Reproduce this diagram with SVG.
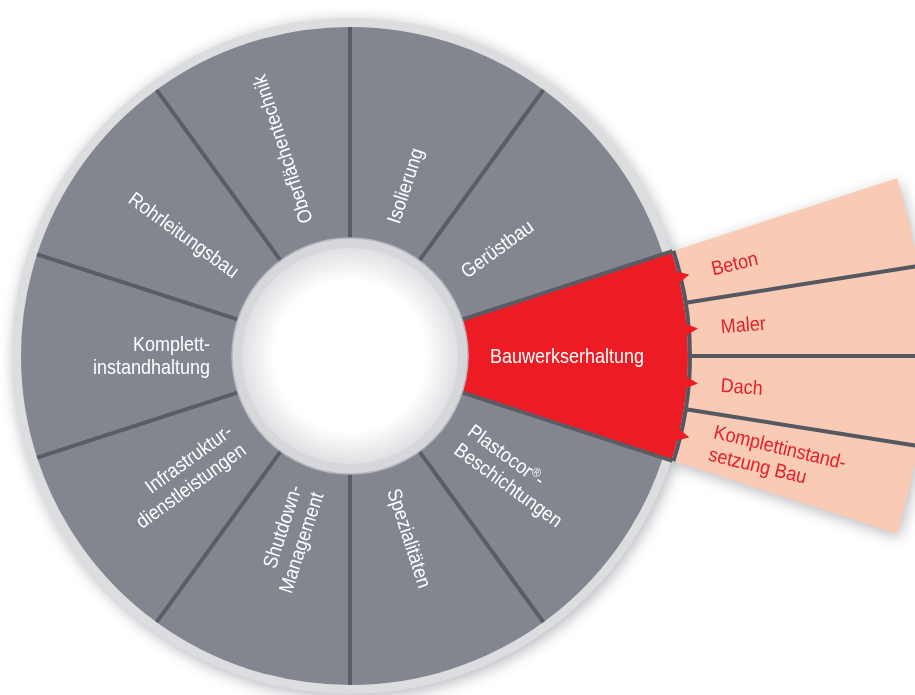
<svg xmlns="http://www.w3.org/2000/svg" width="915" height="695" viewBox="0 0 915 695">
<style>
.seg{fill:#83858f}
.lbl{font-family:"Liberation Sans",Arial,sans-serif;font-size:20px;fill:#ffffff}
.sub{font-family:"Liberation Sans",Arial,sans-serif;font-size:20px;fill:#e41f27}
.div{stroke:#5a5c66;stroke-width:4;fill:none}
.pdiv{stroke:#555861;stroke-width:4;fill:none}
.peach{fill:#f9cbb4}
</style>
<defs>
<filter id="blur" x="-20%" y="-20%" width="140%" height="140%"><feGaussianBlur stdDeviation="7"/></filter>
<radialGradient id="hole" cx="50%" cy="50%" r="50%">
<stop offset="0.7" stop-color="#ffffff"/>
<stop offset="1" stop-color="#dfe0e3"/>
</radialGradient>
<polygon id="notch" points="336,-6.5 349,0 336,6.5" fill="#ed1c24"/>
</defs>
<rect width="915" height="695" fill="#ffffff"/>
<g id="shadow" filter="url(#blur)" fill="#8e909a" opacity="0.6">
<circle cx="352" cy="359" r="339"/>
<path d="M 673.36 250.93 L 896.86 178.32 A 575 575 0 0 1 896.86 533.68 L 673.36 461.07 Z" transform="translate(2 4)"/>
</g>
<circle id="outer-ring" cx="350" cy="356" r="338" fill="#dcdddf"/>

<g id="segments">
<g id="seg-oberflaechentechnik"><path class="seg" d="M 156.62 89.83 A 329 329 0 0 1 350 27 L 350 244 A 112 112 0 0 0 284.17 265.39 Z"/></g>
<g id="seg-isolierung"><path class="seg" d="M 350 27 A 329 329 0 0 1 543.38 89.83 L 415.83 265.39 A 112 112 0 0 0 350 244 Z"/></g>
<g id="seg-geruestbau"><path class="seg" d="M 543.38 89.83 A 329 329 0 0 1 662.90 254.33 L 456.52 321.39 A 112 112 0 0 0 415.83 265.39 Z"/></g>
<g id="seg-plastocor"><path class="seg" d="M 662.90 457.67 A 329 329 0 0 1 543.38 622.17 L 415.83 446.61 A 112 112 0 0 0 456.52 390.61 Z"/></g>
<g id="seg-spezialitaeten"><path class="seg" d="M 543.38 622.17 A 329 329 0 0 1 350 685 L 350 468 A 112 112 0 0 0 415.83 446.61 Z"/></g>
<g id="seg-shutdown"><path class="seg" d="M 350 685 A 329 329 0 0 1 156.62 622.17 L 284.17 446.61 A 112 112 0 0 0 350 468 Z"/></g>
<g id="seg-infrastruktur"><path class="seg" d="M 156.62 622.17 A 329 329 0 0 1 37.10 457.67 L 243.48 390.61 A 112 112 0 0 0 284.17 446.61 Z"/></g>
<g id="seg-komplett"><path class="seg" d="M 37.10 457.67 A 329 329 0 0 1 37.10 254.33 L 243.48 321.39 A 112 112 0 0 0 243.48 390.61 Z"/></g>
<g id="seg-rohrleitung"><path class="seg" d="M 37.10 254.33 A 329 329 0 0 1 156.62 89.83 L 284.17 265.39 A 112 112 0 0 0 243.48 321.39 Z"/></g>
</g>

<g id="sub-items">
<g id="sub-beton"><path class="peach" d="M 673.36 250.93 L 896.86 178.32 A 575 575 0 0 1 917.92 266.05 L 685.81 302.81 A 340 340 0 0 0 673.36 250.93 Z"/>
<text class="sub" transform="translate(350 356) rotate(-13.5) scale(0.9 1)" x="413.3" y="6.5">Beton</text></g>
<g id="sub-maler"><path class="peach" d="M 685.81 302.81 L 917.92 266.05 A 575 575 0 0 1 925 356 L 690 356 A 340 340 0 0 0 685.81 302.81 Z"/>
<text class="sub" transform="translate(350 356) rotate(-4.5) scale(0.9 1)" x="413.3" y="6.5">Maler</text></g>
<g id="sub-dach"><path class="peach" d="M 690 356 L 925 356 A 575 575 0 0 1 917.92 445.95 L 685.81 409.19 A 340 340 0 0 0 690 356 Z"/>
<text class="sub" transform="translate(350 356) rotate(4.5) scale(0.9 1)" x="413.3" y="6.5">Dach</text></g>
<g id="sub-komplettinstandsetzung"><path class="peach" d="M 685.81 409.19 L 917.92 445.95 A 575 575 0 0 1 896.86 533.68 L 673.36 461.07 A 340 340 0 0 0 685.81 409.19 Z"/>
<text class="sub" transform="translate(350 356) rotate(13.5) scale(0.9 1)"><tspan x="413.3" y="-5">Komplettinstand-</tspan><tspan x="413.3" y="18">setzung Bau</tspan></text></g>
</g>

<g id="seg-bauwerkserhaltung">
<path fill="#ed1c24" d="M 671.46 251.55 A 338 338 0 0 1 671.46 460.45 L 456.52 390.61 A 112 112 0 0 0 456.52 321.39 Z"/>
</g>

<g id="dividers">
<line class="div" x1="350" y1="244" x2="350" y2="27"/>
<line class="div" x1="415.83" y1="265.39" x2="543.38" y2="89.83"/>
<line class="div" x1="456.52" y1="321.39" x2="672.4" y2="251.2"/>
<line class="div" x1="456.52" y1="390.61" x2="672.4" y2="460.8"/>
<line class="div" x1="415.83" y1="446.61" x2="543.38" y2="622.17"/>
<line class="div" x1="350" y1="468" x2="350" y2="685"/>
<line class="div" x1="284.17" y1="446.61" x2="156.62" y2="622.17"/>
<line class="div" x1="243.48" y1="390.61" x2="37.10" y2="457.67"/>
<line class="div" x1="243.48" y1="321.39" x2="37.10" y2="254.33"/>
<line class="div" x1="284.17" y1="265.39" x2="156.62" y2="89.83"/>
<line class="pdiv" x1="685.81" y1="302.81" x2="922.86" y2="265.27"/>
<line class="pdiv" x1="690" y1="356" x2="930" y2="356"/>
<line class="pdiv" x1="685.81" y1="409.19" x2="922.86" y2="446.73"/>
<path class="pdiv" d="M 673.36 250.93 A 340 340 0 0 1 673.36 461.07"/>
</g>

<g id="connectors">
<use href="#notch" transform="translate(350 356) rotate(-13.5)"/>
<use href="#notch" transform="translate(350 356) rotate(-4.5)"/>
<use href="#notch" transform="translate(350 356) rotate(4.5)"/>
<use href="#notch" transform="translate(350 356) rotate(13.5)"/>
</g>

<g id="hub">
<circle cx="350" cy="356" r="118" fill="#d6d7da" stroke="#b4b6bc" stroke-width="1.5"/>
<circle cx="350" cy="356" r="108" fill="url(#hole)"/>
</g>

<g id="labels">
<text class="lbl" transform="translate(350 356) rotate(-108) scale(0.9 1)" x="155.6" y="6.5">Oberflächentechnik</text>
<text class="lbl" transform="translate(350 356) rotate(-72) scale(0.9 1)" x="155.6" y="6.5">Isolierung</text>
<text class="lbl" transform="translate(350 356) rotate(-36) scale(0.9 1)" x="155.6" y="6.5">Gerüstbau</text>
<text class="lbl" transform="translate(350 356) scale(0.9 1)" x="155.6" y="6.5">Bauwerkserhaltung</text>
<text class="lbl" transform="translate(350 356) rotate(36) scale(0.9 1)"><tspan x="155.6" y="-5">Plastocor</tspan><tspan font-size="13" dy="-6">®</tspan><tspan dy="6">-</tspan><tspan x="155.6" y="18">Beschichtungen</tspan></text>
<text class="lbl" transform="translate(350 356) rotate(72) scale(0.9 1)" x="155.6" y="6.5">Spezialitäten</text>
<text class="lbl" text-anchor="end" transform="translate(350 356) rotate(-72) scale(0.9 1)"><tspan x="-155.6" y="-5">Shutdown-</tspan><tspan x="-155.6" y="18">Management</tspan></text>
<text class="lbl" text-anchor="end" transform="translate(350 356) rotate(-36) scale(0.9 1)"><tspan x="-155.6" y="-5">Infrastruktur-</tspan><tspan x="-155.6" y="18">dienstleistungen</tspan></text>
<text class="lbl" text-anchor="end" transform="translate(350 356) scale(0.9 1)"><tspan x="-155.6" y="-5">Komplett-</tspan><tspan x="-155.6" y="18">instandhaltung</tspan></text>
<text class="lbl" text-anchor="end" transform="translate(350 356) rotate(36) scale(0.9 1)" x="-155.6" y="6.5">Rohrleitungsbau</text>
</g>
</svg>
